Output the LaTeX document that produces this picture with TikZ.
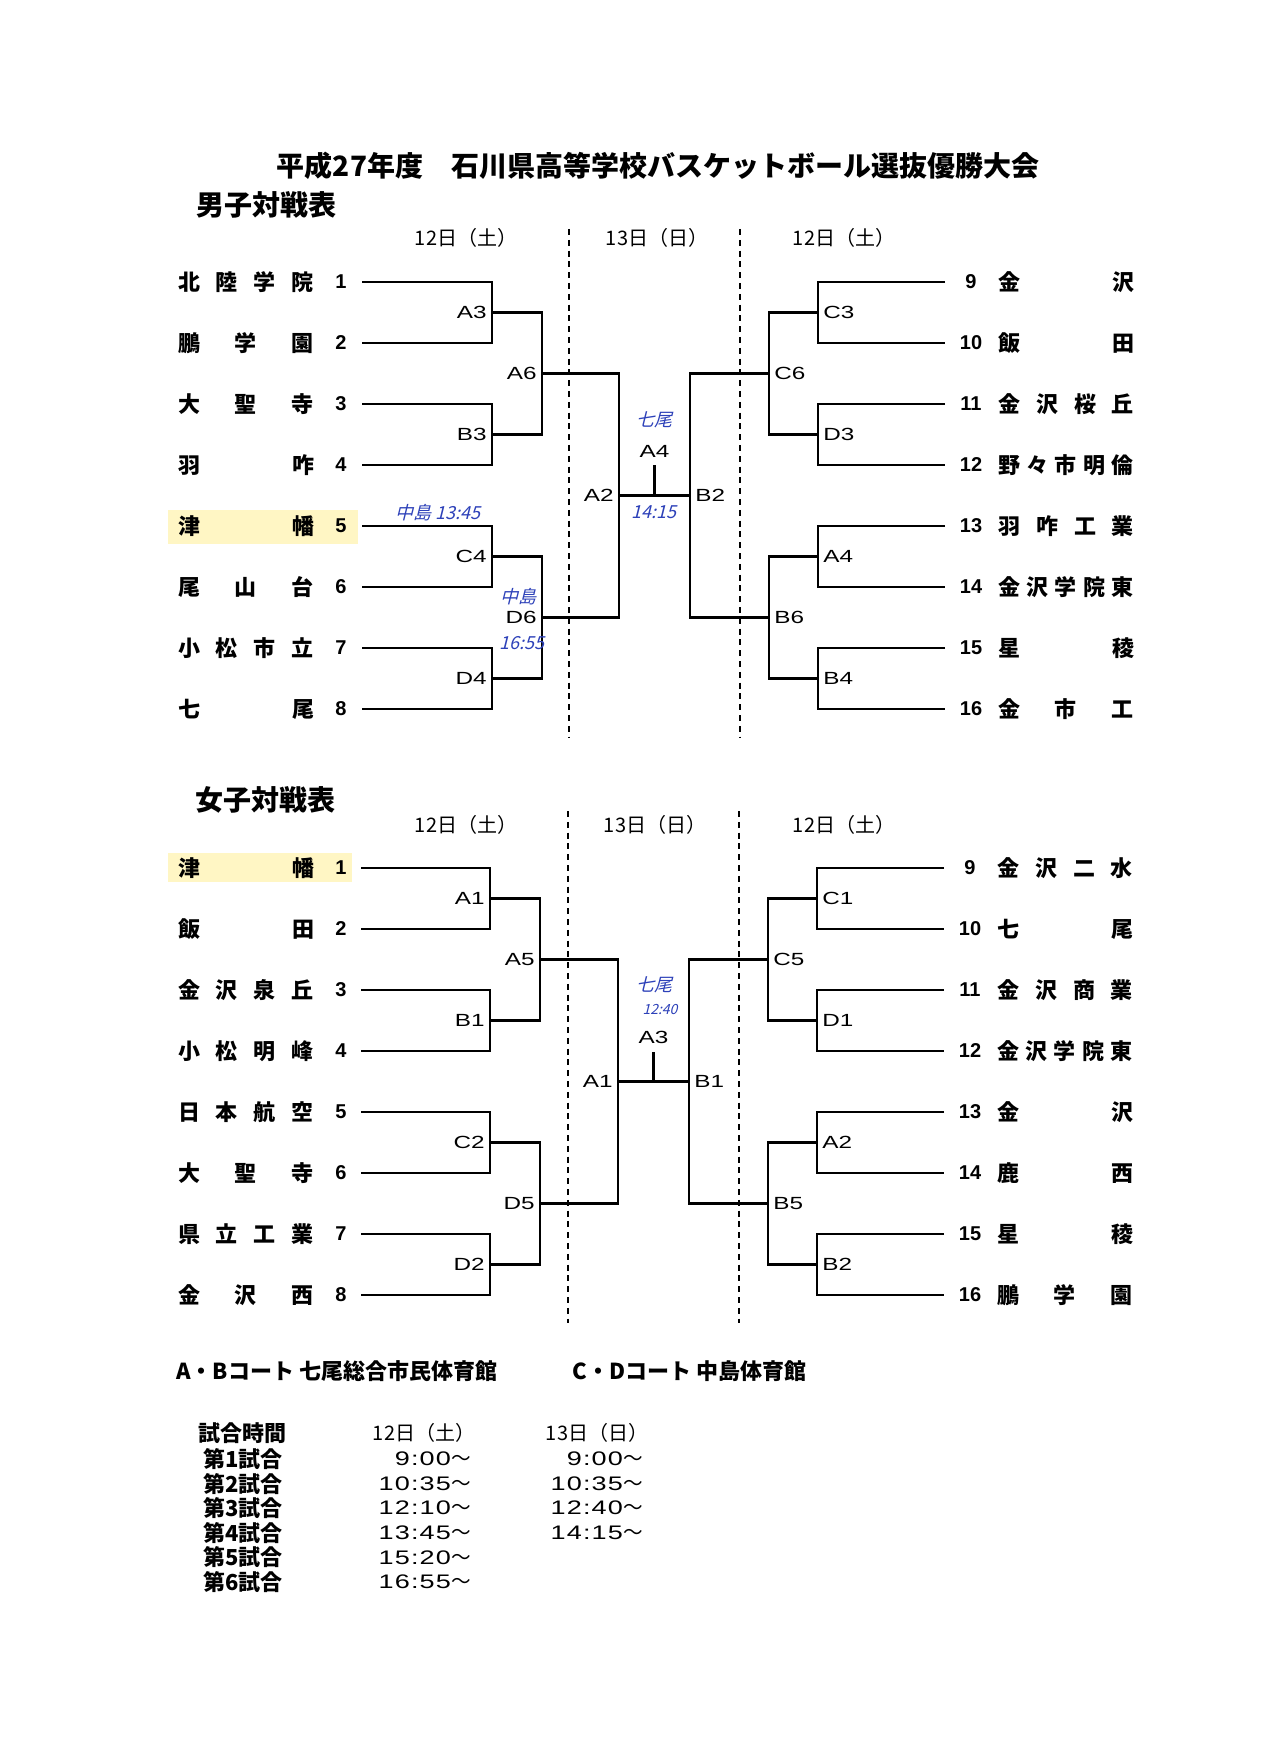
\documentclass[tikz,border=0pt]{standalone}
\usepackage{fontspec}
\setmainfont{Liberation Sans}
\newfontfamily\jp{Noto Sans CJK JP}
\newfontfamily\wide{Liberation Sans}[FakeStretch=1.38]
\newfontfamily\handfont{Noto Sans CJK JP}[FakeSlant=0.25]
\definecolor{marker}{RGB}{255,246,196}
\definecolor{ink}{RGB}{45,65,185}
\newcommand{\spreadname}[1]{\makebox[68pt]{#1}}

\begin{document}
\begin{tikzpicture}[x=0.5pt,y=-0.5pt,
  team/.style={font=\jp\bfseries\fontsize{11}{13}\selectfont, inner sep=0pt},
  num/.style={font=\bfseries\fontsize{10}{12}\selectfont, inner sep=0pt},
  lab/.style={font=\wide\fontsize{8.8}{10}\selectfont, inner sep=2.5pt},
  head/.style={font=\jp\bfseries\fontsize{14}{16}\selectfont, inner sep=0pt},
  day/.style={font=\jp\fontsize{10}{12}\selectfont, inner sep=0pt},
  note/.style={font=\jp\bfseries\fontsize{11}{13}\selectfont, inner sep=0pt},
  clock/.style={font=\wide\fontsize{9.8}{12}\selectfont\addfontfeature{LetterSpace=6}, inner sep=0pt},
  hand/.style={font=\handfont\fontsize{9}{10}\selectfont, text=ink, inner sep=0pt},
  bline/.style={line width=1.1pt},
  daydiv/.style={line width=0.8pt, dash pattern=on 3pt off 2.4pt}]
\path[use as bounding box, fill=white] (0,0) rectangle (1275,1754);
\fill[marker] (168,510) rectangle (358,544);
\fill[marker] (168,853) rectangle (352,882);

\node[head] (title) at (658,166) {平成27年度　石川県高等学校バスケットボール選抜優勝大会};
\node[head, anchor=west] (boys) at (196,205) {男子対戦表};
\node[day] (Bd1) at (466,238) {12日（土）};
\node[day] (Bd2) at (657,238) {13日（日）};
\node[day] (Bd3) at (844,238) {12日（土）};
\draw[daydiv] (569,229) -- (569,738);
\draw[daydiv] (740,229) -- (740,738);

\foreach \i/\school in {1/北\hfill 陸\hfill 学\hfill 院, 2/鵬\hfill 学\hfill 園, 3/大\hfill 聖\hfill 寺, 4/羽\hfill 咋,
    5/津\hfill 幡, 6/尾\hfill 山\hfill 台, 7/小\hfill 松\hfill 市\hfill 立, 8/七\hfill 尾}{
  \node[team] (Bn\i) at (246,{282+61*(\i-1)}) {\spreadname{\school}};
  \node[num] (Bk\i) at (341,{282+61*(\i-1)}) {\i};
  \coordinate (Bt\i) at (362,{282+61*(\i-1)});
}
\foreach \i/\school in {9/金\hfill 沢, 10/飯\hfill 田, 11/金\hfill 沢\hfill 桜\hfill 丘, 12/野\hfill 々\hfill 市\hfill 明\hfill 倫,
    13/羽\hfill 咋\hfill 工\hfill 業, 14/金\hfill 沢\hfill 学\hfill 院\hfill 東, 15/星\hfill 稜, 16/金\hfill 市\hfill 工}{
  \node[num] (Bk\i) at (971,{282+61*(\i-9)}) {\i};
  \node[team] (Bn\i) at (1066,{282+61*(\i-9)}) {\spreadname{\school}};
  \coordinate (Bt\i) at (945,{282+61*(\i-9)});
}

\coordinate (Bq1) at (492,312.5);
\coordinate (Bq2) at (492,434.5);
\coordinate (Bq3) at (492,556.5);
\coordinate (Bq4) at (492,678.5);
\coordinate (Bq5) at (818,312.5);
\coordinate (Bq6) at (818,434.5);
\coordinate (Bq7) at (818,556.5);
\coordinate (Bq8) at (818,678.5);
\coordinate (Bs1) at (542,373.5);
\coordinate (Bs2) at (542,617.5);
\coordinate (Bs3) at (769,373.5);
\coordinate (Bs4) at (769,617.5);
\coordinate (Bf1) at (619,495.5);
\coordinate (Bf2) at (690,495.5);
\coordinate (Bc) at (654.5,495.5);
\coordinate (Bct) at (654.5,465);

\draw[bline] (Bt1) -| (Bq1) |- (Bt2);
\draw[bline] (Bt3) -| (Bq2) |- (Bt4);
\draw[bline] (Bt5) -| (Bq3) |- (Bt6);
\draw[bline] (Bt7) -| (Bq4) |- (Bt8);
\draw[bline] (Bt9) -| (Bq5) |- (Bt10);
\draw[bline] (Bt11) -| (Bq6) |- (Bt12);
\draw[bline] (Bt13) -| (Bq7) |- (Bt14);
\draw[bline] (Bt15) -| (Bq8) |- (Bt16);
\draw[bline] (Bq1) -| (Bs1) |- (Bq2);
\draw[bline] (Bq3) -| (Bs2) |- (Bq4);
\draw[bline] (Bq5) -| (Bs3) |- (Bq6);
\draw[bline] (Bq7) -| (Bs4) |- (Bq8);
\draw[bline] (Bs1) -| (Bf1) |- (Bs2);
\draw[bline] (Bs3) -| (Bf2) |- (Bs4);
\draw[bline] (Bf1) -- (Bf2);
\draw[bline] (Bc) -- (Bct);

\node[lab,left] (BlA3) at (Bq1) {A3};
\node[lab,left] (BlB3) at (Bq2) {B3};
\node[lab,left] (BlC4) at (Bq3) {C4};
\node[lab,left] (BlD4) at (Bq4) {D4};
\node[lab,right] (BlC3) at (Bq5) {C3};
\node[lab,right] (BlD3) at (Bq6) {D3};
\node[lab,right] (BlA4) at (Bq7) {A4};
\node[lab,right] (BlB4) at (Bq8) {B4};
\node[lab,left] (BlA6) at (Bs1) {A6};
\node[lab,left] (BlD6) at (Bs2) {D6};
\node[lab,right] (BlC6) at (Bs3) {C6};
\node[lab,right] (BlB6) at (Bs4) {B6};
\node[lab,left] (BlA2) at (Bf1) {A2};
\node[lab,right] (BlB2) at (Bf2) {B2};
\node[lab] (BlFin) at (654.5,451) {A4};

\node[hand] (Bh1) at (438,513) {中島 13:45};
\node[hand] (Bh2) at (518,597) {中島};
\node[hand] (Bh3) at (522,643) {16:55};
\node[hand] (Bh4) at (654,420) {七尾};
\node[hand] (Bh5) at (654,512) {14:15};

\node[head, anchor=west] (girls) at (195,800) {女子対戦表};
\node[day] (Gd1) at (466,825) {12日（土）};
\node[day] (Gd2) at (655,825) {13日（日）};
\node[day] (Gd3) at (844,825) {12日（土）};
\draw[daydiv] (568,811) -- (568,1323);
\draw[daydiv] (739,811) -- (739,1323);

\foreach \i/\school in {1/津\hfill 幡, 2/飯\hfill 田, 3/金\hfill 沢\hfill 泉\hfill 丘, 4/小\hfill 松\hfill 明\hfill 峰,
    5/日\hfill 本\hfill 航\hfill 空, 6/大\hfill 聖\hfill 寺, 7/県\hfill 立\hfill 工\hfill 業, 8/金\hfill 沢\hfill 西}{
  \node[team] (Gn\i) at (246,{868+61*(\i-1)}) {\spreadname{\school}};
  \node[num] (Gk\i) at (341,{868+61*(\i-1)}) {\i};
  \coordinate (Gt\i) at (361,{868+61*(\i-1)});
}
\foreach \i/\school in {9/金\hfill 沢\hfill 二\hfill 水, 10/七\hfill 尾, 11/金\hfill 沢\hfill 商\hfill 業, 12/金\hfill 沢\hfill 学\hfill 院\hfill 東,
    13/金\hfill 沢, 14/鹿\hfill 西, 15/星\hfill 稜, 16/鵬\hfill 学\hfill 園}{
  \node[num] (Gk\i) at (970,{868+61*(\i-9)}) {\i};
  \node[team] (Gn\i) at (1065,{868+61*(\i-9)}) {\spreadname{\school}};
  \coordinate (Gt\i) at (944,{868+61*(\i-9)});
}

\coordinate (Gq1) at (490,898.5);
\coordinate (Gq2) at (490,1020.5);
\coordinate (Gq3) at (490,1142.5);
\coordinate (Gq4) at (490,1264.5);
\coordinate (Gq5) at (817,898.5);
\coordinate (Gq6) at (817,1020.5);
\coordinate (Gq7) at (817,1142.5);
\coordinate (Gq8) at (817,1264.5);
\coordinate (Gs1) at (540,959.5);
\coordinate (Gs2) at (540,1203.5);
\coordinate (Gs3) at (768,959.5);
\coordinate (Gs4) at (768,1203.5);
\coordinate (Gf1) at (618,1081.5);
\coordinate (Gf2) at (689,1081.5);
\coordinate (Gc) at (653.5,1081.5);
\coordinate (Gct) at (653.5,1052);

\draw[bline] (Gt1) -| (Gq1) |- (Gt2);
\draw[bline] (Gt3) -| (Gq2) |- (Gt4);
\draw[bline] (Gt5) -| (Gq3) |- (Gt6);
\draw[bline] (Gt7) -| (Gq4) |- (Gt8);
\draw[bline] (Gt9) -| (Gq5) |- (Gt10);
\draw[bline] (Gt11) -| (Gq6) |- (Gt12);
\draw[bline] (Gt13) -| (Gq7) |- (Gt14);
\draw[bline] (Gt15) -| (Gq8) |- (Gt16);
\draw[bline] (Gq1) -| (Gs1) |- (Gq2);
\draw[bline] (Gq3) -| (Gs2) |- (Gq4);
\draw[bline] (Gq5) -| (Gs3) |- (Gq6);
\draw[bline] (Gq7) -| (Gs4) |- (Gq8);
\draw[bline] (Gs1) -| (Gf1) |- (Gs2);
\draw[bline] (Gs3) -| (Gf2) |- (Gs4);
\draw[bline] (Gf1) -- (Gf2);
\draw[bline] (Gc) -- (Gct);

\node[lab,left] (GlA1) at (Gq1) {A1};
\node[lab,left] (GlB1) at (Gq2) {B1};
\node[lab,left] (GlC2) at (Gq3) {C2};
\node[lab,left] (GlD2) at (Gq4) {D2};
\node[lab,right] (GlC1) at (Gq5) {C1};
\node[lab,right] (GlD1) at (Gq6) {D1};
\node[lab,right] (GlA2) at (Gq7) {A2};
\node[lab,right] (GlB2) at (Gq8) {B2};
\node[lab,left] (GlA5) at (Gs1) {A5};
\node[lab,left] (GlD5) at (Gs2) {D5};
\node[lab,right] (GlC5) at (Gs3) {C5};
\node[lab,right] (GlB5) at (Gs4) {B5};
\node[lab,left] (GlSA1) at (Gf1) {A1};
\node[lab,right] (GlSB1) at (Gf2) {B1};
\node[lab] (GlFin) at (653.5,1037) {A3};

\node[hand] (Gh1) at (654,985) {七尾};
\node[hand, font=\handfont\fontsize{7}{8}\selectfont] (Gh2) at (660,1009) {12:40};

\node[note, anchor=west] (courtAB) at (176,1371) {A・Bコート 七尾総合市民体育館};
\node[note, anchor=west] (courtCD) at (572,1371) {C・Dコート 中島体育館};
\node[note, anchor=west] (slot) at (198,1433) {試合時間};
\node[day] (Td1) at (424,1433) {12日（土）};
\node[day] (Td2) at (597,1433) {13日（日）};
\foreach \r/\sat in {1/9:00, 2/10:35, 3/12:10, 4/13:45, 5/15:20, 6/16:55}{
  \node[note, anchor=west] (Tg\r) at (203,{1459+24.6*(\r-1)}) {第\r 試合};
  \node[clock, anchor=east] (Ts\r) at (471,{1459+24.6*(\r-1)}) {\sat{\jp ～}};
}
\foreach \r/\sun in {1/9:00, 2/10:35, 3/12:40, 4/14:15}{
  \node[clock, anchor=east] (Tu\r) at (643,{1459+24.6*(\r-1)}) {\sun{\jp ～}};
}
\end{tikzpicture}
\end{document}
